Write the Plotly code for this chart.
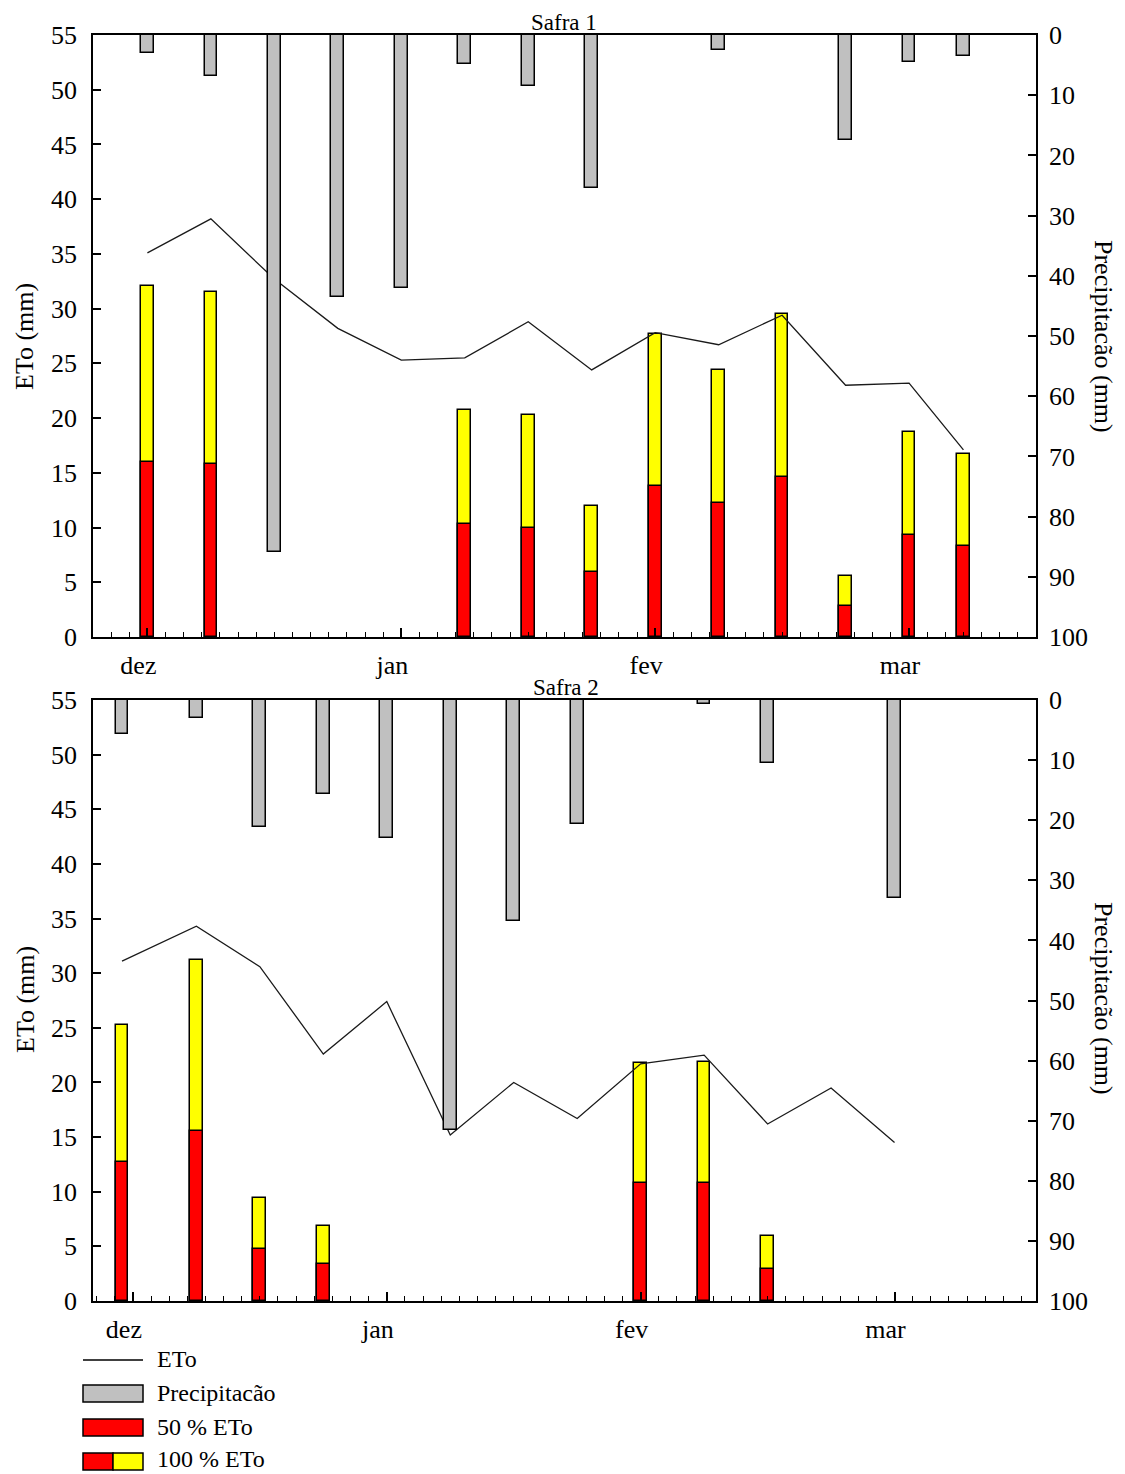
import plotly.graph_objects as go

# ---------------- data ----------------
month_labels = ["dez", "jan", "fev", "mar"]
month_days = [6, 34, 62, 90]

# Safra 1 (x = days)
s1_days = [6, 13, 20, 27, 34, 41, 48, 55, 62, 69, 76, 83, 90, 96]
s1_eto = [35.1, 38.2, 32.7, 28.2, 25.3, 25.5, 28.8, 24.4, 27.8, 26.7, 29.4, 23.0, 23.2, 17.1]
s1_prec = [3.0, 6.8, 85.9, 43.6, 42.0, 4.8, 8.4, 25.4, None, 2.5, None, 17.4, 4.5, 3.5]
s1_irr100 = [32.1, 31.5, None, None, None, 20.7, 20.3, 12.0, 27.7, 24.4, 29.5, 5.6, 18.7, 16.7]
s1_irr50 = [16.0, 15.8, None, None, None, 10.3, 10.0, 5.9, 13.8, 12.2, 14.6, 2.8, 9.3, 8.3]

# Safra 2
s2_days = [4.8, 13, 20, 27, 34, 41, 48, 55, 62, 69, 76, 83, 90]
s2_eto = [31.1, 34.3, 30.6, 22.6, 27.4, 15.2, 20.0, 16.7, 21.7, 22.5, 16.2, 19.5, 14.5]
s2_prec = [5.7, 3.0, 21.1, 15.7, 23.0, 71.5, 36.7, 20.7, None, 0.7, 10.4, None, 33.0]
s2_irr100 = [25.3, 31.2, 9.4, 6.9, None, None, None, None, 21.8, 21.9, 5.95, None, None]
s2_irr50 = [12.7, 15.6, 4.8, 3.4, None, None, None, None, 10.8, 10.8, 2.9, None, None]

eto_ticks = list(range(0, 56, 5))
prec_ticks = list(range(0, 101, 10))

# ---------------- style ----------------
FONT = "Liberation Serif"
FS = 26
FS_SMALL = 24
PAGE_OFF = 8          # default body margin of the page
W, H = 1117, 1466
L, R, T, B = 85, 89, 27, 173
PLOT_W = W - L - R
PLOT_H = H - T - B
BARW = 1.4
EDGE = dict(color="black", width=1.5)


def px_x(px):
    """page pixel -> paper x"""
    return (px - PAGE_OFF - L) / PLOT_W


def px_y(py):
    """page pixel -> paper y"""
    return (H - B + PAGE_OFF - py) / PLOT_H


fig = go.Figure()


def add_panel(days, eto, prec, irr100, irr50, xa, ya, ya2):
    fig.add_trace(go.Bar(x=days, y=irr100, width=BARW, marker=dict(color="#FFFF00", line=EDGE),
                         xaxis=xa, yaxis=ya, showlegend=False, name="100 % ETo"))
    fig.add_trace(go.Bar(x=days, y=irr50, width=BARW, marker=dict(color="#FF0000", line=EDGE),
                         xaxis=xa, yaxis=ya, showlegend=False, name="50 % ETo"))
    fig.add_trace(go.Scatter(x=days, y=eto, mode="lines", line=dict(color="#1a1a1a", width=1.3),
                             xaxis=xa, yaxis=ya, showlegend=False, name="ETo"))
    fig.add_trace(go.Bar(x=days, y=prec, width=BARW, marker=dict(color="#C0C0C0", line=EDGE),
                         xaxis=xa, yaxis=ya2, showlegend=False, name="Precipitacão"))


add_panel(s1_days, s1_eto, s1_prec, s1_irr100, s1_irr50, "x", "y", "y2")
add_panel(s2_days, s2_eto, s2_prec, s2_irr100, s2_irr50, "x2", "y3", "y4")

tickfont = dict(family=FONT, size=FS, color="black")
top_dom = [px_y(637), 1.0]
bot_dom = [0.0, px_y(700)]


def xaxis_cfg(anchor, rng):
    return dict(anchor=anchor, range=rng, tickvals=month_days, ticktext=month_labels,
                ticks="inside", ticklen=9, tickwidth=1.5, tickcolor="black",
                ticklabelshift=-9, ticklabelstandoff=4,
                minor=dict(dtick=2, tick0=0, ticks="inside", ticklen=5, tickwidth=1.3,
                           tickcolor="black", showgrid=False),
                showline=True, linecolor="black", linewidth=1.5, mirror=True,
                showgrid=False, zeroline=False, tickfont=tickfont)


def yleft_cfg(dom, anchor):
    return dict(domain=dom, anchor=anchor, range=[0, 55], tickvals=eto_ticks,
                ticks="inside", ticklen=8, tickwidth=1.5, tickcolor="black",
                ticklabelstandoff=9,
                showline=True, linecolor="black", linewidth=1.5, mirror=True,
                showgrid=False, zeroline=False, tickfont=tickfont)


def yright_cfg(over, anchor):
    return dict(overlaying=over, anchor=anchor, side="right", range=[100, 0], tickvals=prec_ticks,
                ticks="inside", ticklen=8, tickwidth=1.5, tickcolor="black",
                ticklabelstandoff=6,
                showline=True, linecolor="black", linewidth=1.5,
                showgrid=False, zeroline=False, tickfont=tickfont)


fig.update_layout(
    width=W, height=H,
    margin=dict(l=L, r=R, t=T, b=B, autoexpand=False),
    paper_bgcolor="white", plot_bgcolor="white",
    barmode="overlay", bargap=0,
    font=dict(family=FONT, size=FS, color="black"),
    xaxis=xaxis_cfg("y", [0, 104]),
    yaxis=yleft_cfg(top_dom, "x"),
    yaxis2=yright_cfg("y", "x"),
    xaxis2=xaxis_cfg("y3", [1.6, 105.6]),
    yaxis3=yleft_cfg(bot_dom, "x2"),
    yaxis4=yright_cfg("y3", "x2"),
)


def note(text, xp, yp, angle=0, xanchor="center", size=FS):
    return dict(text=text, x=px_x(xp), y=px_y(yp), xref="paper", yref="paper", showarrow=False,
                xanchor=xanchor, yanchor="middle", textangle=angle,
                font=dict(family=FONT, size=size, color="black"))


ann = [note("Safra 1", 564, 22, size=23), note("Safra 2", 566, 687, size=23)]
for yc in (337, 1000):
    ann.append(note("ETo (mm)", 25, yc, angle=-90))
for yc in (336, 998):
    ann.append(note("Precipitacão (mm)", 1104, yc, angle=90))

# manual legend (swatches like the original)
shapes = []
lx0, lx1, lxm = px_x(83), px_x(143), px_x(113)
shapes.append(dict(type="line", xref="paper", yref="paper", x0=lx0, x1=lx1, y0=px_y(1360), y1=px_y(1360),
                   line=dict(color="black", width=1.5)))
shapes.append(dict(type="rect", xref="paper", yref="paper", x0=lx0, x1=lx1, y0=px_y(1402), y1=px_y(1385),
                   fillcolor="#C0C0C0", line=dict(color="black", width=1.5)))
shapes.append(dict(type="rect", xref="paper", yref="paper", x0=lx0, x1=lx1, y0=px_y(1436), y1=px_y(1419),
                   fillcolor="#FF0000", line=dict(color="black", width=1.5)))
shapes.append(dict(type="rect", xref="paper", yref="paper", x0=lx0, x1=lxm, y0=px_y(1470), y1=px_y(1453),
                   fillcolor="#FF0000", line=dict(color="black", width=1.5)))
shapes.append(dict(type="rect", xref="paper", yref="paper", x0=lxm, x1=lx1, y0=px_y(1470), y1=px_y(1453),
                   fillcolor="#FFFF00", line=dict(color="black", width=1.5)))
legend_items = [("ETo", 1359), ("Precipitacão", 1392.5), ("50 % ETo", 1426.5), ("100 % ETo", 1458.5)]
for txt, yc in legend_items:
    ann.append(note(txt, 155, yc, xanchor="left", size=FS_SMALL))

fig.update_layout(annotations=ann, shapes=shapes)
fig.write_html("out.html")
